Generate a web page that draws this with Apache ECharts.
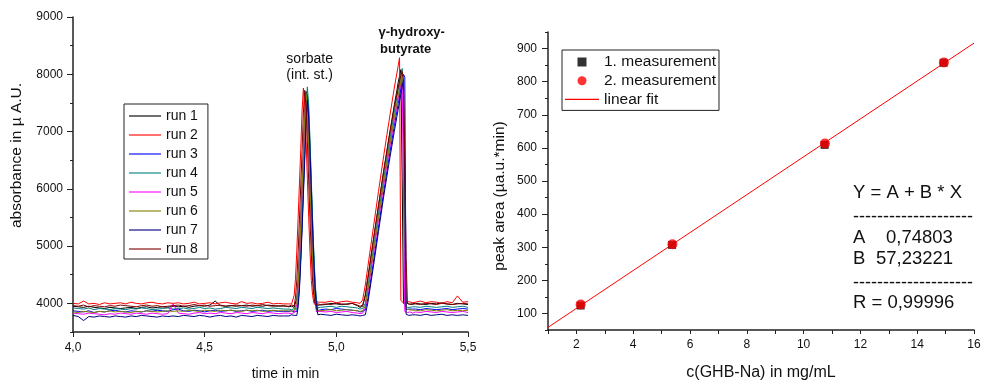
<!DOCTYPE html>
<html><head><meta charset="utf-8">
<script src="https://cdn.jsdelivr.net/npm/echarts@6/dist/echarts.min.js"></script>
<style>html,body{margin:0;padding:0;background:#fff}#c{width:984px;height:386px}</style>
</head><body><div id="c"></div>
<script>
const FONT = 'Liberation Sans, Arial, sans-serif';

// ---- left panel: electropherograms (time in min) ----
const time = [
  4.00,4.02,4.04,4.06,4.08,4.10,4.12,4.14,4.16,4.18, 4.20,4.22,4.24,4.26,4.28,4.30,4.32,4.34,4.36,4.38,
  4.40,4.42,4.44,4.46,4.48,4.50,4.52,4.54,4.56,4.58, 4.60,4.62,4.64,4.66,4.68,4.70,4.72,4.74,4.76,4.78, 4.80,
  4.820,4.825,4.830,4.835,4.840,4.845,4.850,4.855,4.860,4.865,4.870,4.875,4.880,4.885,4.890,4.895,4.900,4.905,4.910,4.915,4.920,4.925,4.930,4.935,4.940,
  4.96,4.98,5.00,5.02,5.04,5.06,5.08,
  5.09,5.10,5.11,5.12,5.14,5.16,5.18,5.20,5.22,5.23,5.235,5.24,5.245,5.25,5.255,5.26,5.265,5.27,5.275,5.28,5.29,
  5.30,5.32,5.34,5.36,5.38,5.40,5.42,5.44,5.46,5.48,5.50
];
const run1 = [
  3950,3940,3930,3950,3930,3920,3910,3930,3920,3910, 3920,3930,3910,3930,3940,3920,3930,3940,3930,3950,
  3940,3950,3930,3950,3960,3950,3970,4040,3960,3950, 3960,3950,3960,3970,3950,3960,3950,3970,3960,3950, 3960,
  3940,3930,3950,3940,3930,3940,4090,4390,4880,5440,6050,6650,7320,7700,7400,6800,6120,5440,4840,4350,4090,3960,3980,3970,3990,
  3980,4000,3990,3980,3990,4000,3960,
  3930,3950,4130,4440,5080,5700,6320,6900,7460,7720,7860,7970,8080,6200,4000,3990,4010,3980,3990,4000,3980,
  4000,3990,3980,4000,3990,4010,3990,3980,4000,3990,3980
];
const run2 = [
  4000,3990,4040,3990,4000,3980,4010,3990,4000,4010, 3990,4020,4000,3990,4010,4020,4000,3990,4010,4000,
  4010,3990,4000,4020,3990,4000,4010,3990,4010,4020, 4000,3990,4030,4000,4010,3990,4000,4020,3990,4000, 3990,
  3990,4000,3990,3990,4140,4440,4930,5500,6100,6700,7380,7760,7460,6860,6180,5500,4900,4400,4140,4000,4010,4030,4000,4020,4010,
  4020,4040,4010,4030,4040,4020,4010,
  4000,4060,4320,4650,5300,5950,6580,7180,7760,8020,8150,8290,4050,4030,4010,4040,4020,4000,4030,4040,4010,
  4020,4040,4010,4030,4020,4000,4030,4010,4130,4020,4030
];
const run3 = [
  3870,3860,3850,3870,3840,3860,3850,3870,3880,3860, 3850,3870,3860,3850,3870,3860,3880,3870,3860,3890,
  3900,3870,3860,3880,3870,3850,3870,3880,3860,3870, 3880,3860,3870,3880,3860,3870,3880,3860,3870,3860, 3860,
  3860,3850,3870,3860,3850,3860,3860,4010,4320,4810,5380,5990,6590,7270,7650,7350,6740,6060,5380,4770,4280,4010,3870,3880,3890,
  3900,3890,3910,3900,3890,3880,3870,
  3850,3860,3880,4090,4700,5330,5950,6540,7100,7360,7490,7620,7750,7880,8000,7950,3890,3890,3900,3910,3900,
  3900,3890,3910,3900,3890,3900,3910,3890,3900,3910,3900
];
const run4 = [
  3920,3910,3900,3920,3890,3910,3900,3890,3910,3900, 3890,3910,3900,3920,3910,3890,3900,3910,3920,3900,
  3910,3920,3900,3910,3930,3910,3920,3900,3910,3930, 3920,3910,3930,3920,3910,3930,3920,3910,3920,3910, 3900,
  3900,3910,3890,3900,3910,3900,3900,4060,4370,4870,5450,6070,6690,7390,7780,7470,6850,6150,5450,4830,4330,4050,3920,3910,3930,
  3940,3950,3930,3950,3940,3930,3920,
  3900,3910,4000,4290,4930,5560,6180,6770,7330,7600,7730,7860,7980,8100,7600,3960,3940,3930,3950,3930,3940,
  3940,3930,3950,3940,3930,3940,3950,3930,3940,3950,3930
];
const run5 = [
  3830,3820,3810,3830,3820,3810,3800,3820,3810,3830, 3820,3810,3830,3820,3810,3830,3820,3810,3820,3990,
  3830,3820,3810,3830,3840,3820,3830,3820,3840,3830, 3820,3840,3830,3820,3840,3830,3820,3840,3830,3820, 3830,
  3830,3840,3820,3830,3840,3830,3980,4280,4770,5340,5940,6540,7220,7600,7300,6700,6020,5340,4730,4240,3980,3850,3840,3860,3850,
  3850,3860,3840,3850,3860,3840,3830,
  3820,3830,3920,4200,4830,5450,6060,6640,7190,7450,7580,7710,7830,7950,6000,3860,3850,3840,3860,3850,3830,
  3850,3840,3860,3850,3840,3860,3850,3840,3850,3860,3840
];
const run6 = [
  3850,3840,3860,3850,3840,3860,3850,3870,3850,3860, 3850,3840,3860,3850,3870,3860,3850,3860,3870,3860,
  3870,3860,3880,3870,3860,3880,3870,3860,3880,3870, 3880,3870,3860,3880,3870,3880,3860,3870,3880,3870, 3870,
  3870,3880,3860,3870,3880,3870,4020,4320,4820,5380,5990,6590,7270,7650,7350,6740,6060,5380,4780,4290,4020,3880,3890,3870,3880,
  3880,3890,3870,3880,3890,3880,3870,
  3860,3870,3960,4250,4880,5500,6120,6700,7250,7500,7630,7760,7880,8000,7700,5800,3900,3880,3890,3870,3880,
  3880,3870,3890,3880,3870,3880,3890,3870,3880,3870,3880
];
const run7 = [
  3790,3770,3700,3770,3760,3780,3770,3760,3780,3770, 3760,3780,3770,3790,3780,3770,3760,3780,3770,3780,
  3770,3790,3780,3770,3790,3780,3760,3780,3790,3770, 3780,3760,3790,3780,3770,3790,3780,3770,3790,3780, 3780,
  3780,3790,3800,3780,3790,3800,3790,3940,4240,4730,5290,5900,6500,7170,7550,7250,6650,5970,5290,4690,4200,3940,3800,3790,3810,
  3800,3790,3810,3800,3790,3800,3790,
  3780,3790,3800,4020,4620,5250,5870,6450,7000,7260,7390,7520,7650,7780,7900,6000,3810,3800,3790,3810,3800,
  3800,3790,3810,3790,3800,3810,3790,3800,3790,3800,3790
];
const run8 = [
  3960,3950,3970,3940,3960,3950,3940,3960,3950,3970, 3960,3950,3940,3960,3970,3950,3960,3940,3950,3960,
  3970,3950,3960,3980,3960,3970,3950,3960,3970,3950, 3960,3970,3960,3950,3970,3960,3980,3960,3950,3960, 3950,
  3950,3960,3970,3960,3960,4110,4410,4900,5460,6070,6670,7340,7720,7420,6820,6140,5460,4860,4370,4110,3970,3980,3990,3970,3980,
  3990,3980,4000,3990,3980,4000,3970,
  3950,3970,4150,4450,5080,5700,6300,6880,7420,7650,7770,7890,7980,8050,7900,6500,4800,4000,3990,3980,4000,
  3990,3980,4000,3990,3980,4000,3990,3980,3990,4000,3990
];
const runNames = ['run 1','run 2','run 3','run 4','run 5','run 6','run 7','run 8'];
const runColors = ['#000000','#ff0000','#0000ff','#008080','#ff00ff','#808000','#000080','#800000'];
const runs = [run1, run2, run3, run4, run5, run6, run7, run8];
const leftYLabels = [4000, 5000, 6000, 7000, 8000, 9000];

// ---- right panel: calibration ----
const conc1 = [2.15, 5.37, 10.74, 14.93];
const area1 = [124, 307, 609, 857];
const conc2 = [2.15, 5.38, 10.75, 14.94];
const area2 = [127, 309, 613, 858];
const fitX = [1, 16];
const fitY = [57.98, 916.46];
const rightYLabels = [100, 200, 300, 400, 500, 600, 700, 800, 900];
const rightLegend = ['1. measurement', '2. measurement', 'linear fit'];

runs.forEach((r, i) => { if (r.length !== time.length) console.error('length mismatch', i, r.length, time.length); });

const LINE_ICON = 'path://M0,0L40,0L40,1.4L0,1.4Z';
const SQUARE_ICON = 'path://M0,0L8,0L8,8L0,8Z';

const AX = {
  axisLine: {show: true, lineStyle: {color: '#222', width: 1.5}},
  splitLine: {show: false},
  axisLabel: {color: '#111', fontSize: 12, fontFamily: FONT},
  nameTextStyle: {color: '#111', fontFamily: FONT}
};

const chart = echarts.init(document.getElementById('c'), null, {renderer: 'canvas'});
const series = runs.map((r, i) => ({
  name: runNames[i], type: 'line', xAxisIndex: 0, yAxisIndex: 0,
  symbol: 'none', showSymbol: false, animation: false,
  lineStyle: {color: runColors[i], width: 1}, itemStyle: {color: runColors[i]},
  data: time.map((t, k) => [t, r[k]])
}));
series.push({
  name: 'linear fit', type: 'line', xAxisIndex: 1, yAxisIndex: 2, symbol: 'none', z: 2,
  color: '#ff0000',
  lineStyle: {color: '#ff0000', width: 1}, itemStyle: {color: '#ff0000'},
  data: fitX.map((x, k) => [x, fitY[k]])
});
series.push({
  name: '1. measurement', type: 'scatter', xAxisIndex: 1, yAxisIndex: 2, symbol: 'rect', symbolSize: 8, z: 3,
  itemStyle: {color: '#000000'}, data: conc1.map((x, k) => [x, area1[k]])
});
series.push({
  name: '2. measurement', type: 'scatter', xAxisIndex: 1, yAxisIndex: 2, symbol: 'circle', symbolSize: 10, z: 4,
  itemStyle: {color: '#ff0000'}, data: conc2.map((x, k) => [x, area2[k]])
});

const txt = (x, y, text, size, extra) => ({
  type: 'text', x: x, y: y, silent: true,
  style: Object.assign({text: text, fontSize: size, fontFamily: FONT, fill: '#111', align: 'left', verticalAlign: 'middle'}, extra || {})
});

const option = {
  animation: false,
  backgroundColor: '#ffffff',
  textStyle: {fontFamily: FONT},
  grid: [
    {left: 73, top: 17, width: 395, height: 318},
    {left: 548, top: 32, width: 426, height: 306}
  ],
  xAxis: [
    Object.assign({}, AX, {
      gridIndex: 0, type: 'value', min: 4, max: 5.5, interval: 0.5,
      axisTick: {show: true, inside: false, length: 5, lineStyle: {color: '#222'}},
      minorTick: {show: true, splitNumber: 2, length: 3, lineStyle: {color: '#222'}},
      axisLabel: Object.assign({}, AX.axisLabel, {margin: 10, formatter: v => v.toFixed(1).replace('.', ',')}),
      name: 'time in min', nameLocation: 'middle', nameGap: 35,
      nameTextStyle: Object.assign({}, AX.nameTextStyle, {fontSize: 14, padding: [0, 0, 0, 30]})
    }),
    Object.assign({}, AX, {
      gridIndex: 1, type: 'value', min: 1, max: 16, interval: 1,
      axisTick: {show: true, inside: false, length: 4, lineStyle: {color: '#222'}},
      axisLabel: Object.assign({}, AX.axisLabel, {margin: 9, formatter: v => (v % 2 === 0 ? String(v) : '')}),
      name: 'c(GHB-Na) in mg/mL', nameLocation: 'middle', nameGap: 35,
      nameTextStyle: Object.assign({}, AX.nameTextStyle, {fontSize: 16})
    })
  ],
  yAxis: [
    Object.assign({}, AX, {
      gridIndex: 0, type: 'value', position: 'left', min: 3500, max: 9000, interval: 500,
      axisTick: {show: true, inside: false, length: 6, customValues: leftYLabels, lineStyle: {color: '#222'}},
      axisLabel: Object.assign({}, AX.axisLabel, {margin: 10, customValues: leftYLabels, formatter: v => String(v)}),
      name: 'absorbance in µ A.U.', nameLocation: 'middle', nameGap: 48, nameRotate: 90,
      nameTextStyle: Object.assign({}, AX.nameTextStyle, {fontSize: 15.5, padding: [0, 0, 0, 38]})
    }),
    {
      gridIndex: 0, type: 'value', position: 'left', min: 3500, max: 9000, interval: 500,
      axisLine: {show: false}, splitLine: {show: false}, axisLabel: {show: false},
      axisTick: {show: true, inside: false, length: 3, lineStyle: {color: '#222'}}
    },
    Object.assign({}, AX, {
      gridIndex: 1, type: 'value', position: 'left', min: 50, max: 950, interval: 50,
      axisTick: {show: true, inside: false, length: 6, customValues: rightYLabels, lineStyle: {color: '#222'}},
      axisLabel: Object.assign({}, AX.axisLabel, {margin: 11, customValues: rightYLabels, formatter: v => String(v)}),
      name: 'peak area (µa.u.*min)', nameLocation: 'middle', nameGap: 40, nameRotate: 90,
      nameTextStyle: Object.assign({}, AX.nameTextStyle, {fontSize: 15.5, padding: [0, 30, 0, 0]})
    }),
    {
      gridIndex: 1, type: 'value', position: 'left', min: 50, max: 950, interval: 50,
      axisLine: {show: false}, splitLine: {show: false}, axisLabel: {show: false},
      axisTick: {show: true, inside: false, length: 3, lineStyle: {color: '#222'}}
    }
  ],
  legend: [
    {
      data: runNames.map((n, i) => ({name: n, icon: LINE_ICON, itemStyle: {color: runColors[i]}})),
      orient: 'vertical', left: 124, top: 104,
      backgroundColor: '#fff', borderColor: '#222', borderWidth: 1, borderRadius: 0,
      padding: [5, 10, 3, 5], itemWidth: 32, itemHeight: 14, itemGap: 5,
      textStyle: {fontSize: 14, color: '#111', fontFamily: FONT}, selectedMode: false
    },
    {
      data: [
        {name: rightLegend[0], icon: SQUARE_ICON, itemStyle: {color: '#000000'}},
        {name: rightLegend[1], icon: 'circle', itemStyle: {color: '#ff0000'}},
        {name: rightLegend[2], icon: LINE_ICON, itemStyle: {color: '#ff0000'}}
      ],
      orient: 'vertical', left: 562, top: 50,
      backgroundColor: '#fff', borderColor: '#222', borderWidth: 1, borderRadius: 0,
      padding: [4, 3, 3, 3], itemWidth: 34, itemHeight: 9, itemGap: 2.7,
      textStyle: {fontSize: 15.5, color: '#111', fontFamily: FONT}, selectedMode: false
    }
  ],
  graphic: [
    txt(309.7, 59.3, 'sorbate', 14, {align: 'center'}),
    txt(309.7, 75, '(int. st.)', 14, {align: 'center'}),
    txt(411.7, 32.7, 'γ-hydroxy-', 13, {align: 'center', fontWeight: 'bold'}),
    txt(405.7, 49.3, 'butyrate', 13, {align: 'center', fontWeight: 'bold'}),
    txt(853, 193.3, 'Y = A + B * X', 18.5),
    txt(853, 216.7, '--------------------', 18),
    txt(853, 237.7, 'A', 18.5),
    txt(886, 237.7, '0,74803', 18.5),
    txt(853, 259.3, 'B', 18.5),
    txt(876, 259.3, '57,23221', 18.5),
    txt(853, 282.7, '--------------------', 18),
    txt(853, 303.3, 'R = 0,99996', 18.5)
  ],
  series: series
};
chart.setOption(option);
</script>
</body></html>
